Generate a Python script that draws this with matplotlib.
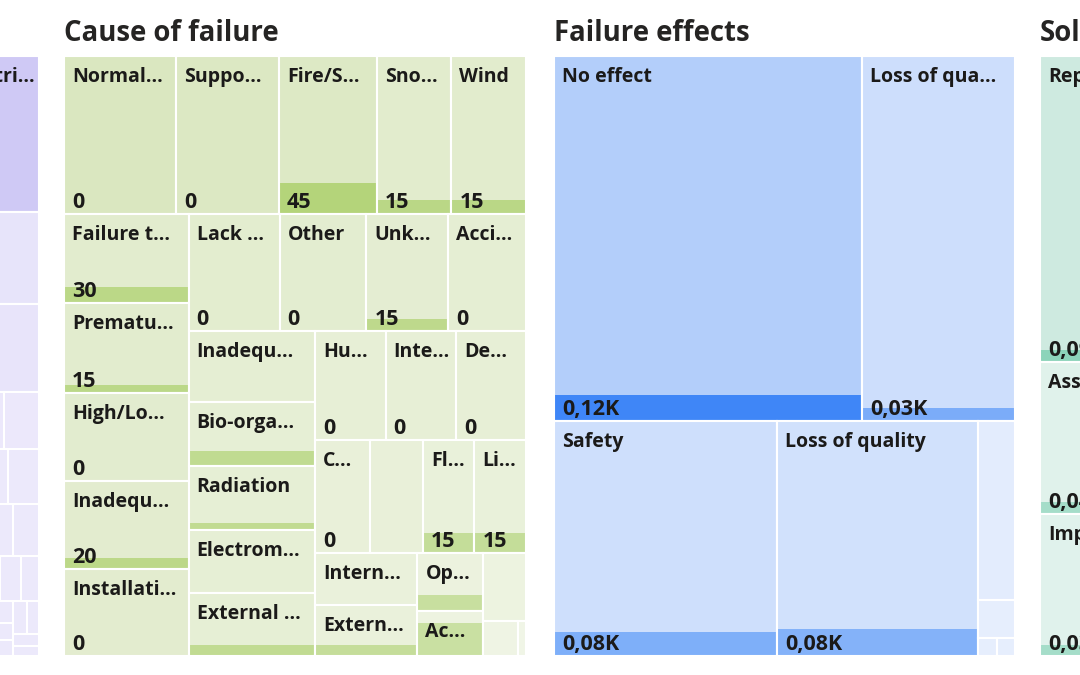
import matplotlib
matplotlib.use("Agg")
import matplotlib.pyplot as plt
from matplotlib.patches import Rectangle

plt.rcParams["font.family"] = ["Open Sans", "DejaVu Sans"]

FIG_W, FIG_H = 1080, 675

# ------------------------------------------------------------------ data
# panel 1 (mostly outside the visible area)
mode_title = ""
mode_sizes = [232, 230, 228, 226, 224,
              204, 202, 200, 198, 196,
              93, 92, 92, 92, 91,
              90, 89, 89, 89, 88,
              87, 86, 85, 84, 83,
              34, 33, 33, 32, 32, 32, 31, 31, 31, 30, 30, 29, 29, 28, 28,
              27, 27, 26, 26, 25, 25, 24, 23, 23, 22, 21, 20, 19, 18, 17,
              16, 15, 13, 12, 10, 9, 7, 6, 5, 4]
mode_labels = ["", "", "", "", "Electri..."] + [""] * (len(mode_sizes) - 5)
mode_values = [None] * len(mode_sizes)

# panel 2
cause_title = "Cause of failure"
cause_labels = ["Normal...", "Suppo...", "Fire/S...", "Sno...", "Wind",
                "Failure t...", "Prematu...", "High/Lo...", "Inadequ...", "Installati...",
                "Lack ...", "Other", "Unk...", "Acci...",
                "Inadequ...", "Bio-orga...", "Radiation", "Electrom...", "External ...",
                "Hu...", "Inte...", "De...",
                "C...", "", "Fl...", "Li...",
                "Intern...", "Extern...", "Op...", "Ac...", "", "", ""]
cause_sizes = [265, 243, 231, 176, 176,
               168, 167, 165, 164, 163,
               160, 153, 144, 137,
               135, 122, 121, 120, 119,
               115, 115, 115,
               92, 90, 87, 87,
               80, 78, 57, 44, 44, 19, 4]
cause_values = [0, 0, 45, 15, 15,
                30, 15, 0, 20, 0,
                0, 0, 15, 0,
                0, 29, 13, 0, 21,
                0, 0, 0,
                0, None, 15, 15,
                0, 17, 16, 32, 0, 0, 0]

# panel 3
effect_title = "Failure effects"
effect_labels = ["No effect", "Loss of qua...", "Safety", "Loss of quality", "", "", "", ""]
effect_sizes = [1709, 849, 799, 719, 100, 21, 5, 5]
effect_values = [120, 30, 80, 84, 0, 0, 0, 0]

# panel 4 (mostly outside the visible area)
solution_title = "Solution"
solution_labels = ["Repair", "Assessment", "Improvement", "Redesign", "Monitoring", "Training", "Other"]
solution_sizes = [2175, 462, 431, 400, 310, 270, 219]
solution_values = [85, 36, 33, 20, 15, 10, 5]

# ------------------------------------------------------------------ layout (d3 squarify, golden ratio)
PHI = (1 + 5 ** 0.5) / 2


def squarify_d3(values, x0, y0, x1, y1, ratio=PHI):
    n = len(values)
    rects = [None] * n
    value = float(sum(values))
    i0 = i1 = 0
    while i0 < n:
        dx, dy = x1 - x0, y1 - y0
        sum_v = values[i1]
        i1 += 1
        while not sum_v and i1 < n:
            sum_v = values[i1]
            i1 += 1
        min_v = max_v = sum_v
        alpha = max(dy / dx, dx / dy) / (value * ratio)
        beta = sum_v * sum_v * alpha
        min_ratio = max(max_v / beta, beta / min_v)
        while i1 < n:
            nv = values[i1]
            sum_v += nv
            min_v = min(min_v, nv)
            max_v = max(max_v, nv)
            beta = sum_v * sum_v * alpha
            new_ratio = max(max_v / beta, beta / min_v)
            if new_ratio > min_ratio:
                sum_v -= nv
                break
            min_ratio = new_ratio
            i1 += 1
        row = list(range(i0, i1))
        if dx < dy:
            ny = y0 + dy * sum_v / value if value else y1
            cx = x0
            for k in row:
                w = (x1 - x0) * values[k] / sum_v
                rects[k] = (cx, y0, w, ny - y0)
                cx += w
            y0 = ny
        else:
            nx = x0 + dx * sum_v / value if value else x1
            cy = y0
            for k in row:
                h = (y1 - y0) * values[k] / sum_v
                rects[k] = (x0, cy, nx - x0, h)
                cy += h
            x0 = nx
        value -= sum_v
        i0 = i1
    return rects


def mix(c_light, c_dark, t):
    return tuple((l + (d - l) * t) / 255.0 for l, d in zip(c_light, c_dark))


def fmt_int(v):
    return f"{v:.0f}"


def fmt_k(v):
    return f"{v / 1000:.2f}K".replace(".", ",")


TEXT = "#1b1a19"


def draw_panel(fig, px, py, pw, ph, title, labels, sizes, values, fmt, scheme):
    tile_light, tile_dark, bar_light, bar_dark, gamma = scheme
    ax = fig.add_axes([px / FIG_W, 1 - (py + ph) / FIG_H, pw / FIG_W, ph / FIG_H])
    ax.set_xlim(0, pw)
    ax.set_ylim(ph, 0)
    ax.axis("off")
    ax.text(0, -15, title, fontsize=19.8, fontweight="bold", color="#252423",
            ha="left", va="baseline", clip_on=False)
    order = sorted(range(len(sizes)), key=lambda i: -sizes[i])
    rects = squarify_d3([sizes[i] for i in order], 0, 0, pw, ph)
    smin, smax = min(sizes), max(sizes)
    for k, i in enumerate(order):
        x, y, w, h = rects[k]
        t = ((sizes[i] - smin) / (smax - smin)) ** gamma
        ax.add_patch(Rectangle((x, y), w, h, facecolor=mix(tile_light, tile_dark, t),
                               edgecolor="none"))
        v = values[i]
        if v:
            bh = h * v / sizes[i]
            ax.add_patch(Rectangle((x, y + h - bh), w, bh,
                                   facecolor=mix(bar_light, bar_dark, t), edgecolor="none"))
        ax.add_patch(Rectangle((x, y), w, h, fill=False, edgecolor="white", lw=1.5))
        if labels[i] and w >= 48 and h >= 36:
            ax.text(x + 8, y + 11, labels[i], fontsize=14, fontweight="bold",
                    color=TEXT, ha="left", va="top", clip_on=True)
        if v is not None and w >= 48 and h >= 80:
            ax.text(x + 8, y + h - 6, fmt(v), fontsize=15.5, fontweight="bold",
                    color=TEXT, ha="left", va="baseline", clip_on=True)
    return ax


fig = plt.figure(figsize=(FIG_W / 100, FIG_H / 100), dpi=100)
fig.patch.set_facecolor("white")

purple = ((236, 233, 251), (205, 199, 245), (200, 195, 240), (150, 140, 230), 2.0)
green = ((240, 245, 230), (218, 231, 192), (206, 226, 170), (176, 210, 115), 1.0)
blue = ((230, 238, 253), (179, 206, 250), (181, 210, 251), (63, 134, 247), 1.0)
mint = ((226, 243, 237), (206, 234, 224), (168, 222, 203), (140, 212, 186), 1.0)

draw_panel(fig, -423, 56, 462, 600, mode_title, mode_labels, mode_sizes, mode_values, fmt_int, purple)
draw_panel(fig, 64, 56, 462, 600, cause_title, cause_labels, cause_sizes, cause_values, fmt_int, green)
draw_panel(fig, 554, 56, 461, 600, effect_title, effect_labels, effect_sizes, effect_values, fmt_k, blue)
draw_panel(fig, 1040, 56, 462, 600, solution_title, solution_labels, solution_sizes, solution_values, fmt_k, mint)

fig.savefig("out.png", dpi=100, facecolor="white")
